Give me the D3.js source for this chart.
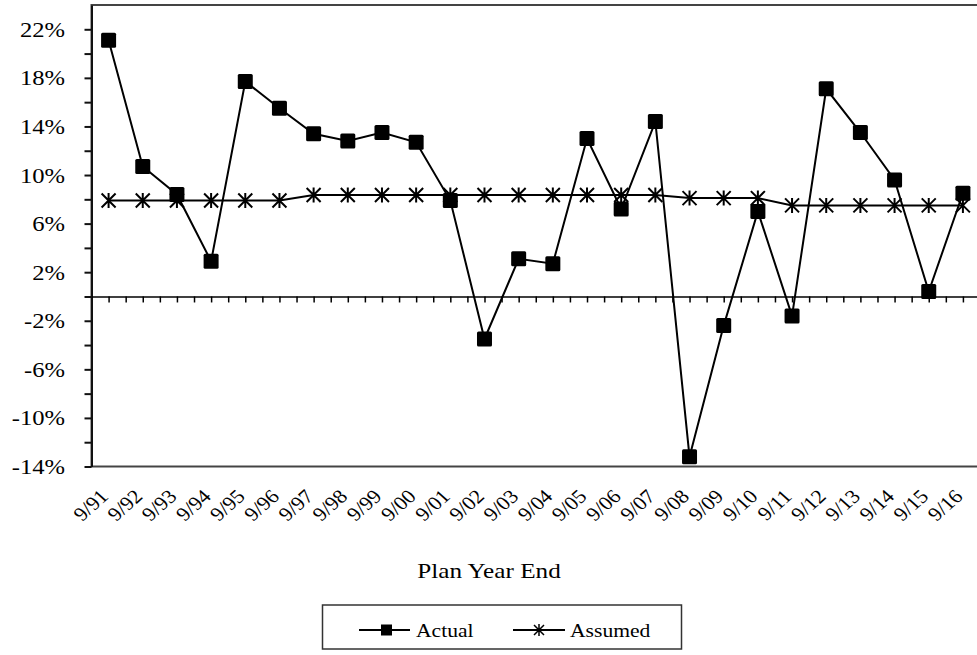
<!DOCTYPE html>
<html><head><meta charset="utf-8">
<script src="https://cdn.jsdelivr.net/npm/d3@7"></script>
<style>body{margin:0;background:#fff} svg{display:block;font-family:"Liberation Serif","Times New Roman",serif}</style>
</head><body><svg id="c" width="977" height="655"></svg>
<script>
const categories = ["9/91","9/92","9/93","9/94","9/95","9/96","9/97","9/98","9/99","9/00","9/01","9/02","9/03","9/04","9/05","9/06","9/07","9/08","9/09","9/10","9/11","9/12","9/13","9/14","9/15","9/16"];
const actual = [21.1,10.7,8.4,2.9,17.7,15.5,13.4,12.8,13.5,12.7,7.9,-3.5,3.1,2.7,13.0,7.2,14.4,-13.2,-2.4,7.0,-1.6,17.1,13.5,9.6,0.4,8.5];
const assumed = [7.9,7.9,7.9,7.9,7.9,7.9,8.35,8.35,8.35,8.35,8.35,8.35,8.35,8.35,8.35,8.35,8.35,8.1,8.1,8.1,7.5,7.5,7.5,7.5,7.5,7.5];
const yTicks = [22,18,14,10,6,2,-2,-6,-10,-14];
const yMinorTicks = [20,16,12,8,4,0,-4,-8,-12];
const seriesNames = ["Actual","Assumed"];
const xTitle = "Plan Year End";

const svg = d3.select("#c");
const L = 91.5, R = 980, T = 5, B = 466.5;
const x = d3.scaleBand().domain(categories).range([L, R]);
const y = d3.scaleLinear().domain([-14, 24]).range([B, T]);
const cx = d => x(d) + x.bandwidth() / 2;
const SX = 1.2;

// plot frame
svg.append("rect").attr("x", L).attr("y", T).attr("width", R - L).attr("height", B - T)
  .attr("fill", "none").attr("stroke", "#444").attr("stroke-width", 2);

// y axis
const yAx = svg.append("g").attr("transform", `translate(${L},0)`)
  .call(d3.axisLeft(y).tickValues(yTicks).tickFormat(d => d + "%").tickSize(7).tickSizeOuter(0));
yAx.select(".domain").attr("stroke", "#111").attr("stroke-width", 2);
yAx.selectAll(".tick line").attr("stroke", "#111").attr("stroke-width", 2);
yAx.selectAll(".tick text").attr("x", 0).attr("dy", "0.34em")
  .attr("transform", `translate(-26.5,0) scale(${SX},1)`)
  .attr("font-size", 20.5).attr("fill", "#000").attr("font-family", "Liberation Serif");
const yMin = svg.append("g").attr("transform", `translate(${L},0)`)
  .call(d3.axisLeft(y).tickValues(yMinorTicks).tickFormat("").tickSize(7).tickSizeOuter(0));
yMin.select(".domain").remove();
yMin.selectAll(".tick line").attr("stroke", "#111").attr("stroke-width", 2);

// zero-line category axis with half-band ticks
const xi = d3.scaleLinear().domain([0, categories.length]).range([L, R]);
const zAx = svg.append("g").attr("transform", `translate(0,${y(0)})`)
  .call(d3.axisBottom(xi).tickValues(d3.range(0.5, categories.length, 0.5)).tickFormat("").tickSize(6).tickSizeOuter(0));
zAx.select(".domain").attr("stroke", "#000").attr("stroke-width", 1.5);
zAx.selectAll(".tick line").attr("stroke", "#000").attr("stroke-width", 1.5);

// bottom labels
const xAx = svg.append("g").attr("transform", `translate(0,${B})`)
  .call(d3.axisBottom(x).tickSize(0).tickSizeOuter(0));
xAx.select(".domain").remove();
xAx.selectAll(".tick text").attr("y", 0).attr("dy", 0).attr("text-anchor", "end")
  .attr("transform", `translate(1,31) scale(1.12,1) rotate(-45)`)
  .attr("font-size", 19.5).attr("fill", "#000").attr("font-family", "Liberation Serif");

// lines
const line = d3.line().x((d, i) => cx(categories[i])).y(d => y(d));
svg.append("path").datum(assumed).attr("d", line).attr("fill", "none").attr("stroke", "#000").attr("stroke-width", 2);
svg.append("path").datum(actual).attr("d", line).attr("fill", "none").attr("stroke", "#000").attr("stroke-width", 2);

const star = "M-7,-7L7,7M-7,7L7,-7M0,-7.5L0,7.5";
svg.append("g").selectAll("path").data(assumed).join("path")
  .attr("transform", (d, i) => `translate(${cx(categories[i])},${y(d)})`)
  .attr("d", star).attr("stroke", "#000").attr("stroke-width", 2).attr("fill", "none");
svg.append("g").selectAll("rect").data(actual).join("rect")
  .attr("x", (d, i) => cx(categories[i]) - 7.5).attr("y", d => y(d) - 7.5)
  .attr("width", 15).attr("height", 15).attr("rx", 1.5).attr("fill", "#000");

// axis title
svg.append("text").attr("transform", `translate(489,578) scale(${SX},1)`).attr("text-anchor", "middle")
  .attr("font-size", 21).text(xTitle);

// legend
const lg = svg.append("g");
lg.append("rect").attr("x", 322.5).attr("y", 605).attr("width", 359).attr("height", 44)
  .attr("fill", "#fff").attr("stroke", "#333").attr("stroke-width", 1.5);
const ly = 630;
lg.append("line").attr("x1", 359).attr("x2", 410).attr("y1", ly).attr("y2", ly).attr("stroke", "#000").attr("stroke-width", 2);
lg.append("rect").attr("x", 381).attr("y", ly - 5.5).attr("width", 11).attr("height", 11).attr("fill", "#000");
lg.append("text").attr("transform", `translate(416,${ly + 6.5}) scale(${SX},1)`).attr("font-size", 18).text(seriesNames[0]);
lg.append("line").attr("x1", 513).attr("x2", 565).attr("y1", ly).attr("y2", ly).attr("stroke", "#000").attr("stroke-width", 2);
lg.append("path").attr("transform", `translate(539,${ly})`).attr("d", "M-5,-5L5,5M-5,5L5,-5M0,-6L0,6").attr("stroke", "#000").attr("stroke-width", 1.5);
lg.append("text").attr("transform", `translate(570,${ly + 6.5}) scale(${SX},1)`).attr("font-size", 18).text(seriesNames[1]);
</script></body></html>
